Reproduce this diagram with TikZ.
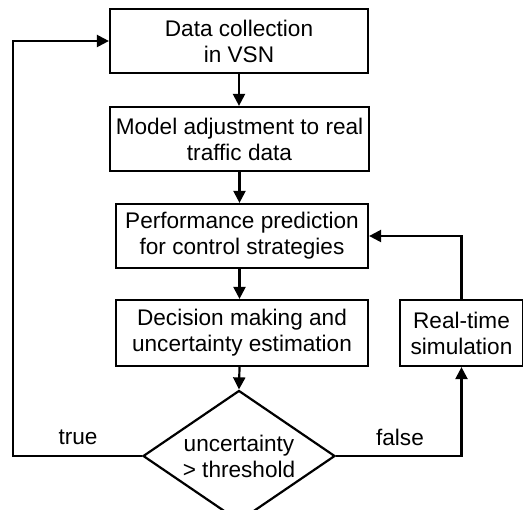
\documentclass[tikz,border=0pt]{standalone}
\usepackage{fontspec}
\setmainfont{Liberation Sans}
\usetikzlibrary{shapes.geometric,arrows.meta}
\begin{document}
\begin{tikzpicture}[x=1pt,y=-1pt,
  every node/.style={font=\fontsize{22.6}{26}\selectfont, align=center},
  box/.style={draw, line width=2.2pt, rectangle, inner sep=0pt},
  dec/.style={draw, line width=2.2pt, diamond, inner sep=-6pt, minimum width=192pt, minimum height=118pt},
  conn/.style={line width=2.2pt, -{Triangle[length=12pt,width=12pt]}},
  lbl/.style={inner sep=0pt}]
\useasboundingbox (0,0) rectangle (523,510);
\node[box, minimum width=258pt, minimum height=64pt] (b1) at (239,41) {Data collection\\in VSN};
\node[box, minimum width=259pt, minimum height=64pt] (b2) at (239.5,139) {Model adjustment to real\\traffic data};
\node[box, minimum width=252pt, minimum height=64pt] (b3) at (242,236) {Performance prediction\\for control strategies};
\node[box, minimum width=252pt, minimum height=66pt] (b4) at (242,333) {Decision making and\\uncertainty estimation};
\node[box, minimum width=123pt, minimum height=66pt] (b5) at (461.5,333) {Real-time\\simulation};
\node[dec] (d) at (239,456) {uncertainty\\> threshold};
\node[lbl] (t) at (78,437) {true};
\node[lbl] (f) at (400,437) {false};
\coordinate (lc) at (13,456);
\draw[conn] (b1.south) -- (b1.south |- b2.north);
\draw[conn] (b2.south) -- (b2.south |- b3.north);
\draw[conn] (b2.south |- b3.south) -- (b2.south |- b4.north);
\draw[conn] (b2.south |- b4.south) -- (d.north);
\draw[conn] (d.west) -- (lc) |- (b1.west);
\draw[conn] (d.east) -| (b5.south);
\draw[conn] (b5.north) |- (b3.east);
\end{tikzpicture}
\end{document}
